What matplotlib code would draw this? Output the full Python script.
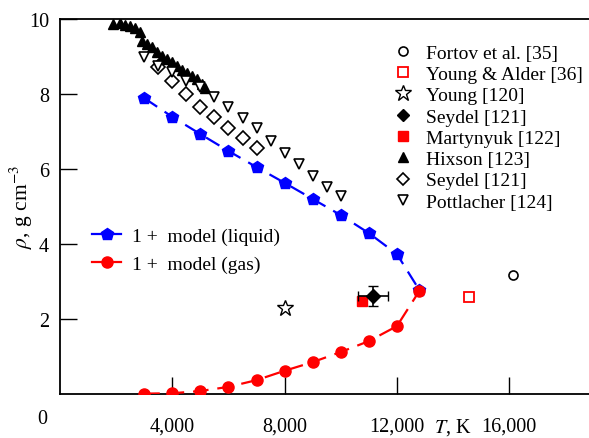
import matplotlib
matplotlib.use("Agg")
import matplotlib.pyplot as plt
from matplotlib.lines import Line2D

plt.rcParams['font.family'] = ['Liberation Serif', 'DejaVu Serif']
plt.rcParams['mathtext.fontset'] = 'stix'

# 1+ model binodal
liq_T = [3000, 4000, 5000, 6000, 7000, 8000, 9000, 10000, 11000, 12000, 12800]
liq_rho = [7.89, 7.39, 6.93, 6.48, 6.05, 5.63, 5.20, 4.77, 4.29, 3.73, 2.77]
gas_T = [3000, 4000, 5000, 6000, 7000, 8000, 9000, 10000, 11000, 12000, 12800]
gas_rho = [0.01, 0.02, 0.08, 0.19, 0.37, 0.62, 0.85, 1.12, 1.41, 1.81, 2.75]

# experimental / literature points
fortov_T, fortov_rho = [16130], [3.17]
ya_T, ya_rho = [14570], [2.60]
young_T, young_rho = [8000], [2.29]
seydel_pt_T, seydel_pt_rho = [11150], [2.61]
seydel_pt_Terr, seydel_pt_rhoerr = [520], [0.27]
mart_T, mart_rho = [10750], [2.48]
hixson_T = [1890, 2140, 2320, 2490, 2670, 2850, 2920, 3100, 3280, 3450, 3630,
            3810, 3990, 4170, 4350, 4520, 4700, 4880, 5060, 5160]
hixson_rho = [9.87, 9.89, 9.84, 9.81, 9.76, 9.65, 9.41, 9.33, 9.25, 9.12, 9.01,
              8.93, 8.85, 8.75, 8.64, 8.56, 8.48, 8.40, 8.27, 8.16]
seydel_T = [3500, 4000, 4500, 5000, 5500, 6000, 6500, 7000]
seydel_rho = [8.72, 8.35, 8.00, 7.65, 7.39, 7.09, 6.83, 6.56]
pott_T = [3000, 3500, 4000, 4500, 5000, 5500, 6000, 6500, 7000, 7500, 8000,
          8500, 9000, 9500, 10000]
pott_rho = [8.99, 8.75, 8.59, 8.35, 8.19, 7.92, 7.65, 7.36, 7.09, 6.75, 6.43,
            6.13, 5.81, 5.52, 5.28]

xticks = [4000, 8000, 12000, 16000]
xticklabels = ['4,000', '8,000', '12,000', '16,000']
yticks = [2, 4, 6, 8, 10]

fig = plt.figure(figsize=(5.89, 4.39), dpi=100)
ax = fig.add_axes([60/589, 44/439, 1 - 60/589, (395-20)/439])

ax.plot(liq_T, liq_rho, color='blue', ls=(0, (7, 4)), lw=1.6, marker='p',
        ms=9, mfc='blue', mec='blue', zorder=3)
ax.plot(gas_T, gas_rho, color='red', ls=(0, (7, 4)), lw=1.6, marker='o',
        ms=8, mfc='red', mec='red', zorder=3)

ax.plot(fortov_T, fortov_rho, 'o', ms=6.5, mfc='white', mec='black', mew=1.2)
ax.plot(ya_T, ya_rho, 's', ms=6.5, mfc='white', mec='red', mew=1.3)
ax.plot(young_T, young_rho, '*', ms=12, mfc='white', mec='black', mew=1.0)
ax.errorbar(seydel_pt_T, seydel_pt_rho, xerr=seydel_pt_Terr, yerr=seydel_pt_rhoerr,
            fmt='D', ms=7, mfc='black', mec='black', ecolor='black', elinewidth=1.2,
            capsize=3.5, zorder=4)
ax.plot(mart_T, mart_rho, 's', ms=7.5, mfc='red', mec='red', zorder=3)
ax.plot(hixson_T, hixson_rho, '^', ms=7, mfc='black', mec='black', ls='none', zorder=2)
ax.plot(seydel_T, seydel_rho, 'D', ms=7, mfc='white', mec='black', mew=1.2, ls='none')
ax.plot(pott_T, pott_rho, 'v', ms=7.5, mfc='white', mec='black', mew=1.2, ls='none')

ax.set_xlim(0, 18840)
ax.set_ylim(0, 10)
ax.set_xticks(xticks)
ax.set_xticklabels(xticklabels)
ax.set_yticks(yticks)
ax.tick_params(direction='in', length=12, width=1.0, labelsize=14.5)
ax.tick_params(axis='x', pad=16)
ax.tick_params(axis='y', pad=8)
ax.spines['right'].set_visible(False)
for s in ['left', 'top', 'bottom']:
    ax.spines[s].set_linewidth(1.3)

fig.text(42/589, 1 - 420/439, '0', fontsize=14.5, ha='center', va='center')
fig.text(21/589, 1 - 207/439, r'$\rho$, g cm$^{-3}$', fontsize=15.5, rotation=90,
         ha='center', va='center')
fig.text(453/589, 1 - 428/439, r'$T$, K', fontsize=14.5, ha='center', va='center')

h1 = [
    Line2D([], [], ls='none', marker='o', ms=6.5, mfc='white', mec='black', mew=1.2),
    Line2D([], [], ls='none', marker='s', ms=6.5, mfc='white', mec='red', mew=1.3),
    Line2D([], [], ls='none', marker='*', ms=12, mfc='white', mec='black', mew=1.0),
    Line2D([], [], ls='none', marker='D', ms=6.5, mfc='black', mec='black'),
    Line2D([], [], ls='none', marker='s', ms=7.5, mfc='red', mec='red'),
    Line2D([], [], ls='none', marker='^', ms=7, mfc='black', mec='black'),
    Line2D([], [], ls='none', marker='D', ms=6.5, mfc='white', mec='black', mew=1.2),
    Line2D([], [], ls='none', marker='v', ms=7.5, mfc='white', mec='black', mew=1.2),
]
l1 = ['Fortov et al. [35]', 'Young & Alder [36]', 'Young [120]', 'Seydel [121]',
      'Martynyuk [122]', 'Hixson [123]', 'Seydel [121]', 'Pottlacher [124]']
leg1 = ax.legend(h1, l1, loc='upper left', bbox_to_anchor=(391/589, 1 - 45/439),
                 bbox_transform=fig.transFigure, frameon=False, fontsize=14,
                 handlelength=1.2, handletextpad=0.6, labelspacing=0.19,
                 borderpad=0, borderaxespad=0)
ax.add_artist(leg1)

h2 = [
    Line2D([], [], color='blue', lw=1.6, marker='p', ms=9, mfc='blue', mec='blue'),
    Line2D([], [], color='red', lw=1.6, marker='o', ms=8, mfc='red', mec='red'),
]
l2 = ['1 +  model (liquid)', '1 +  model (gas)']
ax.legend(h2, l2, loc='upper left', bbox_to_anchor=(92/589, 1 - 228/439),
          bbox_transform=fig.transFigure, frameon=False, fontsize=14,
          handlelength=1.5, handletextpad=0.55, labelspacing=0.55,
          borderpad=0, borderaxespad=0)

fig.savefig('out.png', dpi=100)
